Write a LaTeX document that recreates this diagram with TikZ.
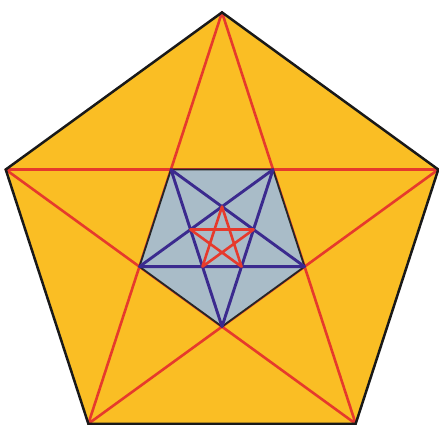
\documentclass[tikz,border=0pt]{standalone}
\usetikzlibrary{calc}
\definecolor{gold}{HTML}{FABE24}
\definecolor{slate}{HTML}{A9BCC8}
\definecolor{starred}{HTML}{E63A2C}
\definecolor{indigo}{HTML}{3B2A8E}
\begin{document}
\begin{tikzpicture}[x=1pt,y=1pt,
  outerline/.style={draw=black!90,line width=2.5pt,line join=miter},
  redline/.style={draw=starred,line width=2.6pt,line join=round},
  blueline/.style={draw=indigo,line width=2.9pt,line join=round},
  innerline/.style={draw=black!85,line width=1.8pt,line join=miter}]
\useasboundingbox (0,0) rectangle (439,425);
\coordinate (c) at (222,185.2);
\foreach \i/\a in {1/90,2/162,3/234,4/306,5/18}{
  \coordinate (o\i) at ($(c)+(\a:227.4)$);
  \coordinate (s\i) at ($(c)+(\a:33.2)$);
}
\foreach \i/\a in {1/270,2/342,3/54,4/126,5/198}{
  \coordinate (m\i) at ($(c)+(\a:86.8)$);
}
\fill[gold] (o1)--(o2)--(o3)--(o4)--(o5)--cycle;
\draw[redline] (o1)--(o3)--(o5)--(o2)--(o4)--cycle;
\draw[outerline] (o1)--(o2)--(o3)--(o4)--(o5)--cycle;
\fill[slate] (m1)--(m2)--(m3)--(m4)--(m5)--cycle;
\draw[innerline] (m1)--(m2)--(m3)--(m4)--(m5)--cycle;
\draw[blueline] (m1)--(m3)--(m5)--(m2)--(m4)--cycle;
\draw[redline] (s1)--(s3)--(s5)--(s2)--(s4)--cycle;
\end{tikzpicture}
\end{document}
